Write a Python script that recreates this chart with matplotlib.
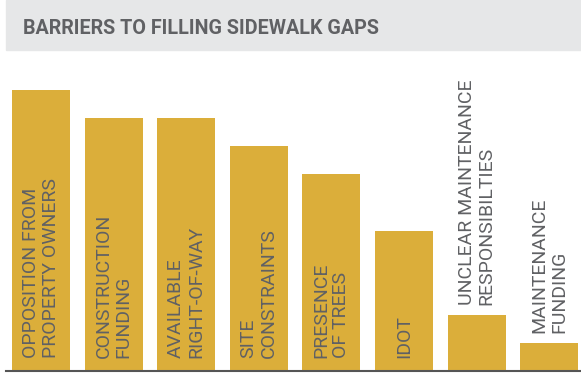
import matplotlib
matplotlib.use('Agg')
import matplotlib.pyplot as plt
from matplotlib.patches import Rectangle
from matplotlib.lines import Line2D

categories = [
    'OPPOSITION FROM\nPROPERTY OWNERS',
    'CONSTRUCTION\nFUNDING',
    'AVAILABLE\nRIGHT-OF-WAY',
    'SITE\nCONSTRAINTS',
    'PRESENCE\nOF TREES',
    'IDOT',
    'UNCLEAR MAINTENANCE\nRESPONSIBILTIES',
    'MAINTENANCE\nFUNDING',
]
values = [10, 9, 9, 8, 7, 5, 2, 1]
title = 'BARRIERS TO FILLING SIDEWALK GAPS'

GOLD = '#dbae3a'
GREY_TEXT = '#606164'
BAND = '#e6e7e8'

W, H = 581, 373
fig = plt.figure(figsize=(W / 100, H / 100), dpi=100)

# title band
fig.patches.append(Rectangle((6 / W, 1 - 50 / H), 1 - 6 / W, 50 / H,
                             transform=fig.transFigure, color=BAND, zorder=0))
fig.text(23 / W, 1 - 28 / H, title, fontsize=14.2, fontweight='bold',
         family='Roboto', color=GREY_TEXT, ha='left', va='center')

# bar area: baseline at y=371px, value 10 reaches y=90px
base = (H - 371) / H
ax = fig.add_axes([0, base, 1, 281 / H])
pitch = 72.6
ax.set_xlim(-41 / pitch, (W - 41) / pitch)
ax.set_ylim(0, 10)
ax.axis('off')

x = list(range(len(values)))
ax.bar(x, values, width=58 / pitch, color=GOLD)

px = 10 / 281  # data units per pixel vertically
for i, (lab, v) in enumerate(zip(categories, values)):
    # labels sit inside tall bars, above the short ones
    y0 = 13 * px
    if v < 5:
        y0 = v + 10 * px
    ax.text(i, y0, lab, rotation=90, ha='center', va='bottom',
            multialignment='left', fontsize=14, family='Roboto',
            color=GREY_TEXT, linespacing=1.15, clip_on=False)

fig.lines.append(Line2D([6 / W, 1], [base, base], transform=fig.transFigure,
                        color='#555555', lw=1.5))

fig.savefig('out.png', dpi=100)
